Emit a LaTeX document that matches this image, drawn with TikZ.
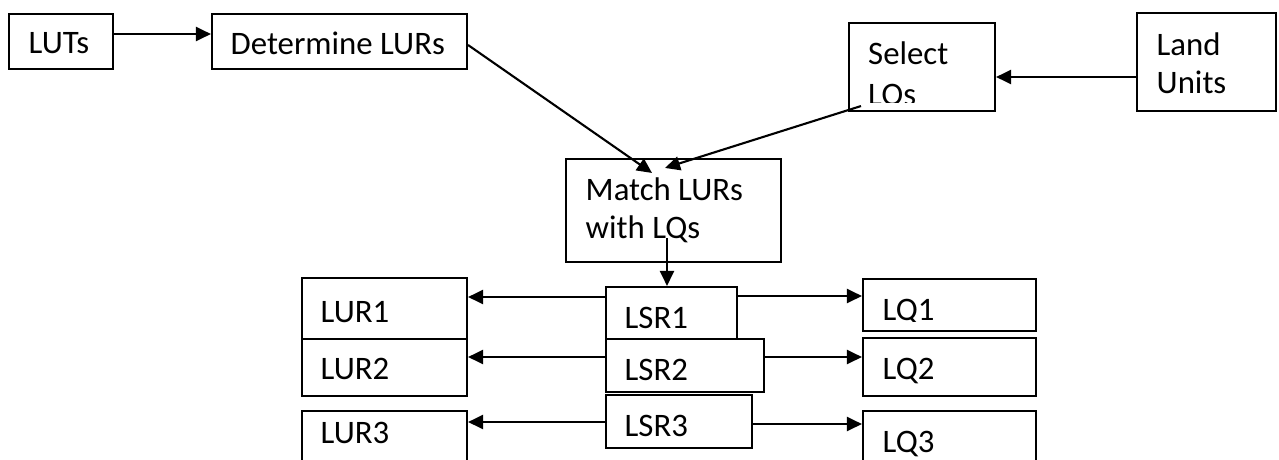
\documentclass[tikz,border=0pt]{standalone}
\usepackage{fontspec}
\setmainfont{Carlito}
\usetikzlibrary{arrows.meta}
\begin{document}
\begin{tikzpicture}[x=1pt,y=-1pt,
  box/.style={draw, line width=2.1pt, rectangle, inner sep=0pt},
  lbl/.style={inner sep=0pt, anchor=base west, font=\fontsize{32.8}{38}\selectfont},
  arr/.style={line width=2.1pt, -{Triangle[length=15pt,width=14pt]}}]
\useasboundingbox (0,0) rectangle (1279,459);
\clip (0,0) rectangle (1279,459);

% boxes
\node[box, minimum width=104pt, minimum height=55pt] (LUTs) at (61,41.5) {};
\node[box, minimum width=255pt, minimum height=55pt] (Det) at (339.5,41.5) {};
\node[box, minimum width=146pt, minimum height=88pt] (Sel) at (922,67) {};
\node[box, minimum width=139pt, minimum height=98pt] (Land) at (1206.5,62) {};
\node[box, minimum width=215pt, minimum height=103pt] (Match) at (673.5,210.5) {};

\node[box, minimum width=165pt, minimum height=61pt] (LUR1) at (384.5,308.5) {};
\node[box, minimum width=165pt, minimum height=57pt] (LUR2) at (384.5,367.5) {};
\node[box, minimum width=165pt, minimum height=64pt] (LUR3) at (384.5,443) {};

\node[box, minimum width=131pt, minimum height=52pt] (LSR1) at (671.5,313) {};
\node[box, minimum width=158pt, minimum height=53pt] (LSR2) at (685,365.5) {};
\node[box, minimum width=146pt, minimum height=53pt] (LSR3) at (679,421.5) {};

\node[box, minimum width=173pt, minimum height=52pt] (LQ1) at (949.5,305) {};
\node[box, minimum width=173pt, minimum height=58pt] (LQ2) at (949.5,367) {};
\node[box, minimum width=173pt, minimum height=64pt] (LQ3) at (949.5,443) {};

% labels
\node[lbl] (tLUTs) at (28.5,53) {LUTs};
\node[lbl] (tDet) at (230.5,54) {Determine LURs};
\node[lbl] (tSel) at (868,64) {Select};
\begin{scope}
  \clip (849,0) rectangle (995,102);
  \node[lbl] (tLQs) at (868,105) {LQs};
\end{scope}
\node[lbl] (tLand) at (1156.5,55) {Land};
\node[lbl] (tUnits) at (1156.5,93) {Units};
\node[lbl] (tMatch) at (585.5,200) {Match LURs};
\node[lbl] (tWith) at (585.5,238) {with LQs};

\node[lbl] (tLUR1) at (320.5,322) {LUR1};
\node[lbl] (tLUR2) at (320.5,379) {LUR2};
\node[lbl] (tLUR3) at (320.5,443) {LUR3};
\node[lbl] (tLSR1) at (624.5,328) {LSR1};
\node[lbl] (tLSR2) at (624.5,380) {LSR2};
\node[lbl] (tLSR3) at (624.5,436) {LSR3};
\begin{scope}
  \clip (863,279) rectangle (1036,321);
  \node[lbl] (tLQ1) at (882.5,320) {LQ1};
\end{scope}
\node[lbl] (tLQ2) at (882.5,379) {LQ2};
\node[lbl] (tLQ3) at (882.5,452) {LQ3};

% connector end points
\coordinate (mOut) at ([xshift=-6.5pt,yshift=25pt]Match.south);
\coordinate (w1) at ([yshift=16pt]LSR1.west);
\coordinate (w2) at ([yshift=8.5pt]LSR2.west);
\coordinate (w3) at ([yshift=-0.5pt]LSR3.west);
\coordinate (e1) at ([yshift=17pt]LSR1.east);
\coordinate (e2) at ([yshift=8.5pt]LSR2.east);
\coordinate (e3) at ([yshift=-2.5pt]LSR3.east);

% connectors
\draw[arr] ([yshift=7.5pt]LUTs.east) -- ([yshift=7.5pt]Det.west);
\draw[arr] ([yshift=-3.5pt]Det.east) -- ([xshift=-21.5pt,yshift=-15pt]Match.north);
\draw[arr] ([xshift=13pt,yshift=6pt]Sel.south west) -- ([xshift=-8.5pt,yshift=-10pt]Match.north);
\draw[arr] ([yshift=-15pt]Land.west) -- ([yshift=-10pt]Sel.east);
\draw[arr] (mOut) -- (mOut |- LSR1.north);
\draw[arr] (w1) -- (w1 -| LUR1.east);
\draw[arr] (w2) -- (w2 -| LUR2.east);
\draw[arr] (w3) -- (w3 -| LUR3.east);
\draw[arr] (e1) -- (e1 -| LQ1.west);
\draw[arr] (e2) -- (e2 -| LQ2.west);
\draw[arr] (e3) -- (e3 -| LQ3.west);
\end{tikzpicture}
\end{document}
